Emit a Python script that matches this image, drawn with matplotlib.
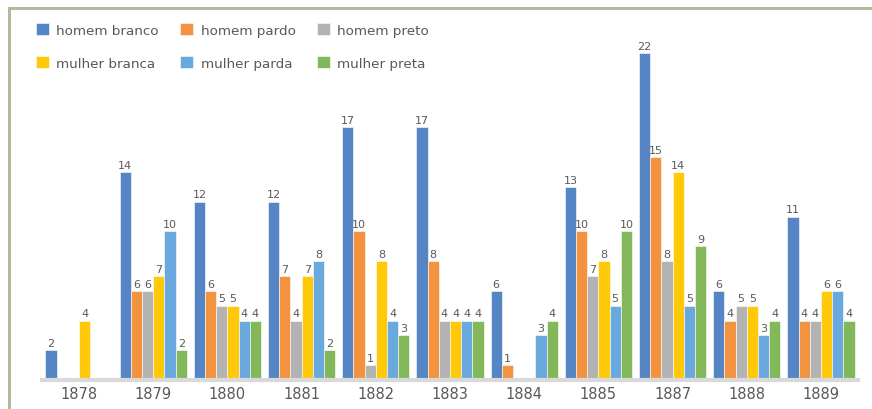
import numpy as np
import matplotlib.pyplot as plt
from matplotlib.lines import Line2D

years = ["1878", "1879", "1880", "1881", "1882", "1883", "1884", "1885", "1887", "1888", "1889"]
series = ["homem branco", "homem pardo", "homem preto", "mulher branca", "mulher parda", "mulher preta"]
homem_branco = [2, 14, 12, 12, 17, 17, 6, 13, 22, 6, 11]
homem_pardo = [0, 6, 6, 7, 10, 8, 1, 10, 15, 4, 4]
homem_preto = [0, 6, 5, 4, 1, 4, 0, 7, 8, 5, 4]
mulher_branca = [4, 7, 5, 7, 8, 4, 0, 8, 14, 5, 6]
mulher_parda = [0, 10, 4, 8, 4, 4, 3, 5, 5, 3, 6]
mulher_preta = [0, 2, 4, 2, 3, 4, 4, 10, 9, 4, 4]
values = [homem_branco, homem_pardo, homem_preto, mulher_branca, mulher_parda, mulher_preta]
colors = ["#5585c5", "#f39340", "#b3b3b3", "#ffc90a", "#6aa9dd", "#82b85a"]

fig = plt.figure(figsize=(8.72, 4.10), dpi=100)
ax = fig.add_axes([42/872, 29/410, 816/872, 371/410])

x = np.arange(len(years))
w = 0.151
handles = []
for i, (name, vals, c) in enumerate(zip(series, values, colors)):
    pos = x + (i - 2.5) * w
    bars = ax.bar(pos, vals, width=w, color=c, edgecolor="white", linewidth=0.4, label=name)
    handles.append(bars)
    for p, v in zip(pos, vals):
        if v > 0:
            ax.text(p, v + 0.15, str(v), ha="center", va="bottom", fontsize=8, color="#595959")

ax.set_xlim(-0.5, len(years) - 0.5)
ax.set_ylim(0, 24.97)
ax.set_xticks(x)
ax.set_xticklabels(years, fontsize=10.5, color="#595959")
ax.tick_params(axis="x", length=0, pad=4)
ax.set_yticks([])
for s in ["top", "right", "left"]:
    ax.spines[s].set_visible(False)
ax.spines["bottom"].set_color("#d9d9d9")
ax.spines["bottom"].set_linewidth(3)

order = [0, 3, 1, 4, 2, 5]
leg = fig.legend([handles[k] for k in order], [series[k] for k in order], ncol=3,
                 loc="upper left", bbox_to_anchor=(24/872, 1 - 12/410), frameon=False,
                 fontsize=9.7, handlelength=0.95, handleheight=0.95, handletextpad=0.55,
                 columnspacing=1.6, labelspacing=1.45)
for t in leg.get_texts():
    t.set_color("#595959")

border = "#b5b89b"
fig.add_artist(Line2D([9/872, 1], [1 - 9/410, 1 - 9/410], color=border, linewidth=2.2))
fig.add_artist(Line2D([9/872, 9/872], [0, 1 - 9/410], color=border, linewidth=2.2))

fig.savefig("out.png", dpi=100)
